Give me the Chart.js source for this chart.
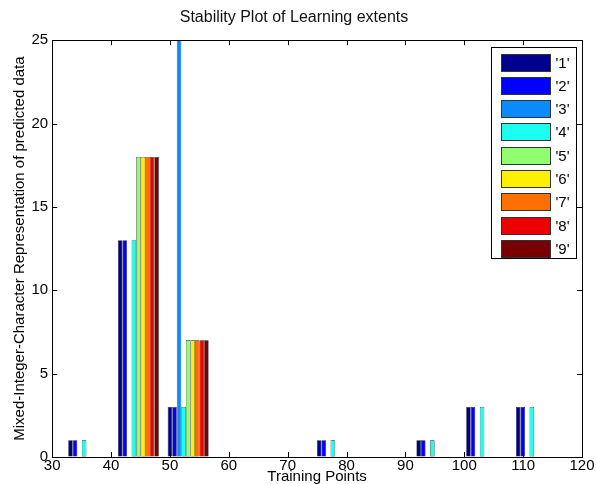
<!DOCTYPE html>
<html>
<head>
<meta charset="utf-8">
<script src="https://cdn.jsdelivr.net/npm/chart.js@4.4.0/dist/chart.umd.min.js"></script>
<style>
  html, body { margin:0; padding:0; background:#fff; }
  #wrap { width:597px; height:484px; }
</style>
</head>
<body>
<div id="wrap"><canvas id="c" width="597" height="484"></canvas></div>
<script>
// group positions on the Training Points axis
const trainingPoints = [36.2, 44.65, 53.1, 78.45, 95.35, 103.8, 112.25];

// one array per series, one value per group
const s1 = [1, 13, 3, 1, 1, 3, 3];
const s2 = [1, 13, 3, 1, 1, 3, 3];
const s3 = [0, 0, 30, 0, 0, 0, 0];
const s4 = [1, 13, 3, 1, 1, 3, 3];
const s5 = [0, 18, 7, 0, 0, 0, 0];
const s6 = [0, 18, 7, 0, 0, 0, 0];
const s7 = [0, 18, 7, 0, 0, 0, 0];
const s8 = [0, 18, 7, 0, 0, 0, 0];
const s9 = [0, 18, 7, 0, 0, 0, 0];

const seriesLabels = ["'1'", "'2'", "'3'", "'4'", "'5'", "'6'", "'7'", "'8'", "'9'"];
const seriesColors = ["#00008f", "#0000ff", "#0a8cff", "#1affef", "#8fff70", "#ffef00", "#ff7000", "#ee0000", "#780000"];
const xTicks = [30, 40, 50, 60, 70, 80, 90, 100, 110, 120];
const yTicks = [0, 5, 10, 15, 20, 25];

const FONT = "'Liberation Sans', Arial, Helvetica, sans-serif";

const allSeries = [s1, s2, s3, s4, s5, s6, s7, s8, s9];
const datasets = allSeries.map((vals, i) => ({
  label: seriesLabels[i],
  data: vals.map((v, k) => ({ x: trainingPoints[k], y: v })),
  backgroundColor: seriesColors[i],
  borderColor: "#1a1a1a",
  borderWidth: 0.6,
  borderSkipped: false,
  categoryPercentage: 0.823,
  barPercentage: 1.0,
}));

// matlab style box with inward ticks
const boxTicks = {
  id: "boxTicks",
  afterDatasetsDraw(chart) {
    const {ctx, chartArea: a, scales} = chart;
    ctx.save();
    ctx.strokeStyle = "#000";
    ctx.lineWidth = 1;
    ctx.beginPath();
    xTicks.forEach(v => {
      const px = Math.round(scales.x.getPixelForValue(v)) + 0.5;
      ctx.moveTo(px, a.bottom); ctx.lineTo(px, a.bottom - 5);
      ctx.moveTo(px, a.top); ctx.lineTo(px, a.top + 5);
    });
    yTicks.forEach(v => {
      const py = Math.round(scales.y.getPixelForValue(v)) + 0.5;
      ctx.moveTo(a.left, py); ctx.lineTo(a.left + 5, py);
      ctx.moveTo(a.right, py); ctx.lineTo(a.right - 5, py);
    });
    ctx.stroke();
    ctx.strokeRect(Math.round(a.left) + 0.5, Math.round(a.top) + 0.5,
                   Math.round(a.right - a.left), Math.round(a.bottom - a.top));
    ctx.restore();
  }
};

// legend box inside the axes, top right
const insideLegend = {
  id: "insideLegend",
  afterDraw(chart) {
    const {ctx, chartArea: a} = chart;
    const w = 85, h = 211;
    const left = Math.round(a.right - 6 - w) + 0.5;
    const top = Math.round(a.top + 7) + 0.5;
    ctx.save();
    ctx.fillStyle = "#fff";
    ctx.fillRect(left, top, w, h);
    ctx.strokeStyle = "#000";
    ctx.lineWidth = 1;
    ctx.strokeRect(left, top, w, h);
    ctx.font = "15px " + FONT;
    ctx.textBaseline = "middle";
    chart.data.datasets.forEach((ds, i) => {
      const y = Math.round(top + 6 + i * 23.3) + 0.5;
      ctx.fillStyle = ds.backgroundColor;
      ctx.fillRect(left + 10, y, 49, 17);
      ctx.strokeStyle = "#333";
      ctx.strokeRect(left + 10, y, 49, 17);
      ctx.fillStyle = "#000";
      ctx.fillText(ds.label, left + 64, y + 9);
    });
    ctx.restore();
  }
};

new Chart(document.getElementById("c"), {
  type: "bar",
  data: { datasets },
  options: {
    responsive: false,
    animation: false,
    layout: { padding: { left: 6, right: 15, top: 0, bottom: 0 } },
    plugins: {
      legend: { display: false },
      tooltip: { enabled: false },
      title: {
        display: true,
        text: "Stability Plot of Learning extents",
        color: "#111",
        font: { family: FONT, size: 16, weight: "normal", lineHeight: 1.2 },
        padding: { top: 8, bottom: 13 },
      },
    },
    scales: {
      x: {
        type: "linear",
        min: 30, max: 120,
        offset: false,
        afterBuildTicks: s => { s.ticks = xTicks.map(v => ({ value: v })); },
        ticks: { color: "#000", padding: 1, font: { family: FONT, size: 15, lineHeight: 1 }, maxRotation: 0 },
        grid: { display: true, drawOnChartArea: false, drawTicks: false },
        border: { display: true, color: "#000", width: 1 },
        title: {
          display: true, text: "Training Points", color: "#000",
          font: { family: FONT, size: 15, lineHeight: 1 },
          padding: { top: -5, bottom: 0 },
        },
      },
      y: {
        min: 0, max: 25,
        afterBuildTicks: s => { s.ticks = yTicks.map(v => ({ value: v })); },
        ticks: { color: "#000", padding: 4, font: { family: FONT, size: 15, lineHeight: 1 } },
        grid: { display: true, drawOnChartArea: false, drawTicks: false },
        border: { display: true, color: "#000", width: 1 },
        title: {
          display: true, text: "Mixed-Integer-Character Representation of predicted data", color: "#000",
          font: { family: FONT, size: 15, lineHeight: 1 },
          padding: { top: 6.5, bottom: 0 },
        },
      },
    },
  },
  plugins: [boxTicks, insideLegend],
});
</script>
</body>
</html>
